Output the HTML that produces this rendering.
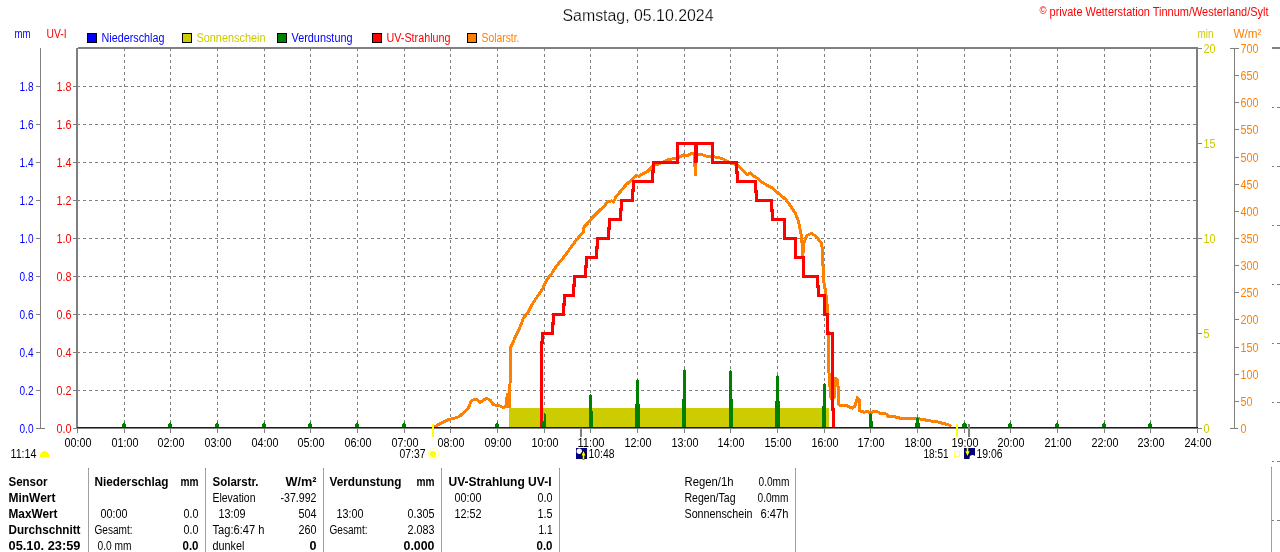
<!DOCTYPE html>
<html><head><meta charset="utf-8"><title>Wetterstation</title>
<style>
html,body{margin:0;padding:0;background:#fff;width:1280px;height:552px;overflow:hidden}
svg{display:block;will-change:transform}
text{font-family:"Liberation Sans",Arial,sans-serif}
</style></head><body>
<svg width="1280" height="552" viewBox="0 0 1280 552">
<rect x="0" y="0" width="1280" height="552" fill="#fff"/>
<path d="M124.5 48V427 M170.5 48V427 M217.5 48V427 M264.5 48V427 M310.5 48V427 M357.5 48V427 M404.5 48V427 M450.5 48V427 M497.5 48V427 M544.5 48V427 M590.5 48V427 M637.5 48V427 M684.5 48V427 M730.5 48V427 M777.5 48V427 M824.5 48V427 M870.5 48V427 M917.5 48V427 M964.5 48V427 M1010.5 48V427 M1057.5 48V427 M1104.5 48V427 M1150.5 48V427" stroke="#808080" stroke-width="1" stroke-dasharray="3 3" fill="none"/>
<path d="M77 390.5H1196 M77 352.5H1196 M77 314.5H1196 M77 276.5H1196 M77 238.5H1196 M77 200.5H1196 M77 162.5H1196 M77 124.5H1196 M77 86.5H1196" stroke="#808080" stroke-width="1" stroke-dasharray="3 3" fill="none"/>
<rect x="76" y="48" width="2" height="380" fill="#808080"/>
<rect x="78" y="47" width="1120" height="2" fill="#808080"/>
<rect x="1196" y="47" width="2" height="381" fill="#808080"/>
<rect x="76" y="427" width="1122" height="2" fill="#808080"/>
<rect x="77" y="428" width="1" height="5" fill="#808080"/>
<rect x="124" y="428" width="1" height="5" fill="#808080"/>
<rect x="170" y="428" width="1" height="5" fill="#808080"/>
<rect x="217" y="428" width="1" height="5" fill="#808080"/>
<rect x="264" y="428" width="1" height="5" fill="#808080"/>
<rect x="310" y="428" width="1" height="5" fill="#808080"/>
<rect x="357" y="428" width="1" height="5" fill="#808080"/>
<rect x="404" y="428" width="1" height="5" fill="#808080"/>
<rect x="450" y="428" width="1" height="5" fill="#808080"/>
<rect x="497" y="428" width="1" height="5" fill="#808080"/>
<rect x="544" y="428" width="1" height="5" fill="#808080"/>
<rect x="590" y="428" width="1" height="5" fill="#808080"/>
<rect x="637" y="428" width="1" height="5" fill="#808080"/>
<rect x="684" y="428" width="1" height="5" fill="#808080"/>
<rect x="730" y="428" width="1" height="5" fill="#808080"/>
<rect x="777" y="428" width="1" height="5" fill="#808080"/>
<rect x="824" y="428" width="1" height="5" fill="#808080"/>
<rect x="870" y="428" width="1" height="5" fill="#808080"/>
<rect x="917" y="428" width="1" height="5" fill="#808080"/>
<rect x="964" y="428" width="1" height="5" fill="#808080"/>
<rect x="1010" y="428" width="1" height="5" fill="#808080"/>
<rect x="1057" y="428" width="1" height="5" fill="#808080"/>
<rect x="1104" y="428" width="1" height="5" fill="#808080"/>
<rect x="1150" y="428" width="1" height="5" fill="#808080"/>
<rect x="1197" y="428" width="1" height="5" fill="#808080"/>
<rect x="40" y="48" width="1" height="381" fill="#808080"/>
<rect x="36" y="428" width="4" height="1" fill="#808080"/>
<rect x="73" y="428" width="3" height="1" fill="#808080"/>
<text x="19.5" y="433" fill="#0000ff" font-size="12" textLength="14.0" lengthAdjust="spacingAndGlyphs">0.0</text>
<text x="56.5" y="433" fill="#ff0000" font-size="12" textLength="15.0" lengthAdjust="spacingAndGlyphs">0.0</text>
<rect x="36" y="390" width="4" height="1" fill="#808080"/>
<rect x="73" y="390" width="3" height="1" fill="#808080"/>
<text x="19.5" y="395" fill="#0000ff" font-size="12" textLength="14.0" lengthAdjust="spacingAndGlyphs">0.2</text>
<text x="56.5" y="395" fill="#ff0000" font-size="12" textLength="15.0" lengthAdjust="spacingAndGlyphs">0.2</text>
<rect x="36" y="352" width="4" height="1" fill="#808080"/>
<rect x="73" y="352" width="3" height="1" fill="#808080"/>
<text x="19.5" y="357" fill="#0000ff" font-size="12" textLength="14.0" lengthAdjust="spacingAndGlyphs">0.4</text>
<text x="56.5" y="357" fill="#ff0000" font-size="12" textLength="15.0" lengthAdjust="spacingAndGlyphs">0.4</text>
<rect x="36" y="314" width="4" height="1" fill="#808080"/>
<rect x="73" y="314" width="3" height="1" fill="#808080"/>
<text x="19.5" y="319" fill="#0000ff" font-size="12" textLength="14.0" lengthAdjust="spacingAndGlyphs">0.6</text>
<text x="56.5" y="319" fill="#ff0000" font-size="12" textLength="15.0" lengthAdjust="spacingAndGlyphs">0.6</text>
<rect x="36" y="276" width="4" height="1" fill="#808080"/>
<rect x="73" y="276" width="3" height="1" fill="#808080"/>
<text x="19.5" y="281" fill="#0000ff" font-size="12" textLength="14.0" lengthAdjust="spacingAndGlyphs">0.8</text>
<text x="56.5" y="281" fill="#ff0000" font-size="12" textLength="15.0" lengthAdjust="spacingAndGlyphs">0.8</text>
<rect x="36" y="238" width="4" height="1" fill="#808080"/>
<rect x="73" y="238" width="3" height="1" fill="#808080"/>
<text x="19.5" y="243" fill="#0000ff" font-size="12" textLength="14.0" lengthAdjust="spacingAndGlyphs">1.0</text>
<text x="56.5" y="243" fill="#ff0000" font-size="12" textLength="15.0" lengthAdjust="spacingAndGlyphs">1.0</text>
<rect x="36" y="200" width="4" height="1" fill="#808080"/>
<rect x="73" y="200" width="3" height="1" fill="#808080"/>
<text x="19.5" y="205" fill="#0000ff" font-size="12" textLength="14.0" lengthAdjust="spacingAndGlyphs">1.2</text>
<text x="56.5" y="205" fill="#ff0000" font-size="12" textLength="15.0" lengthAdjust="spacingAndGlyphs">1.2</text>
<rect x="36" y="162" width="4" height="1" fill="#808080"/>
<rect x="73" y="162" width="3" height="1" fill="#808080"/>
<text x="19.5" y="167" fill="#0000ff" font-size="12" textLength="14.0" lengthAdjust="spacingAndGlyphs">1.4</text>
<text x="56.5" y="167" fill="#ff0000" font-size="12" textLength="15.0" lengthAdjust="spacingAndGlyphs">1.4</text>
<rect x="36" y="124" width="4" height="1" fill="#808080"/>
<rect x="73" y="124" width="3" height="1" fill="#808080"/>
<text x="19.5" y="129" fill="#0000ff" font-size="12" textLength="14.0" lengthAdjust="spacingAndGlyphs">1.6</text>
<text x="56.5" y="129" fill="#ff0000" font-size="12" textLength="15.0" lengthAdjust="spacingAndGlyphs">1.6</text>
<rect x="36" y="86" width="4" height="1" fill="#808080"/>
<rect x="73" y="86" width="3" height="1" fill="#808080"/>
<text x="19.5" y="91" fill="#0000ff" font-size="12" textLength="14.0" lengthAdjust="spacingAndGlyphs">1.8</text>
<text x="56.5" y="91" fill="#ff0000" font-size="12" textLength="15.0" lengthAdjust="spacingAndGlyphs">1.8</text>
<rect x="36" y="428" width="9" height="1" fill="#808080"/>
<text x="14.5" y="38" fill="#0000ff" font-size="12" textLength="16.0" lengthAdjust="spacingAndGlyphs">mm</text>
<text x="46.5" y="38" fill="#ff0000" font-size="12" textLength="20.0" lengthAdjust="spacingAndGlyphs">UV-I</text>
<rect x="1198" y="428" width="4" height="1" fill="#808080"/>
<text x="1203.5" y="433" fill="#cccc00" font-size="12" textLength="6.0" lengthAdjust="spacingAndGlyphs">0</text>
<rect x="1198" y="333" width="4" height="1" fill="#808080"/>
<text x="1203.5" y="338" fill="#cccc00" font-size="12" textLength="6.0" lengthAdjust="spacingAndGlyphs">5</text>
<rect x="1198" y="238" width="4" height="1" fill="#808080"/>
<text x="1203.5" y="243" fill="#cccc00" font-size="12" textLength="12.0" lengthAdjust="spacingAndGlyphs">10</text>
<rect x="1198" y="143" width="4" height="1" fill="#808080"/>
<text x="1203.5" y="148" fill="#cccc00" font-size="12" textLength="12.0" lengthAdjust="spacingAndGlyphs">15</text>
<rect x="1198" y="48" width="4" height="1" fill="#808080"/>
<text x="1203.5" y="53" fill="#cccc00" font-size="12" textLength="12.0" lengthAdjust="spacingAndGlyphs">20</text>
<rect x="1234" y="48" width="1" height="381" fill="#808080"/>
<rect x="1230" y="48" width="9" height="1" fill="#808080"/>
<rect x="1230" y="428" width="8" height="1" fill="#808080"/>
<text x="1240.5" y="433" fill="#ff8000" font-size="12" textLength="6.0" lengthAdjust="spacingAndGlyphs">0</text>
<rect x="1235" y="401" width="4" height="1" fill="#808080"/>
<text x="1240.5" y="406" fill="#ff8000" font-size="12" textLength="12.0" lengthAdjust="spacingAndGlyphs">50</text>
<rect x="1235" y="374" width="4" height="1" fill="#808080"/>
<text x="1240.5" y="379" fill="#ff8000" font-size="12" textLength="18.0" lengthAdjust="spacingAndGlyphs">100</text>
<rect x="1235" y="347" width="4" height="1" fill="#808080"/>
<text x="1240.5" y="352" fill="#ff8000" font-size="12" textLength="18.0" lengthAdjust="spacingAndGlyphs">150</text>
<rect x="1235" y="319" width="4" height="1" fill="#808080"/>
<text x="1240.5" y="324" fill="#ff8000" font-size="12" textLength="18.0" lengthAdjust="spacingAndGlyphs">200</text>
<rect x="1235" y="292" width="4" height="1" fill="#808080"/>
<text x="1240.5" y="297" fill="#ff8000" font-size="12" textLength="18.0" lengthAdjust="spacingAndGlyphs">250</text>
<rect x="1235" y="265" width="4" height="1" fill="#808080"/>
<text x="1240.5" y="270" fill="#ff8000" font-size="12" textLength="18.0" lengthAdjust="spacingAndGlyphs">300</text>
<rect x="1235" y="238" width="4" height="1" fill="#808080"/>
<text x="1240.5" y="243" fill="#ff8000" font-size="12" textLength="18.0" lengthAdjust="spacingAndGlyphs">350</text>
<rect x="1235" y="211" width="4" height="1" fill="#808080"/>
<text x="1240.5" y="216" fill="#ff8000" font-size="12" textLength="18.0" lengthAdjust="spacingAndGlyphs">400</text>
<rect x="1235" y="184" width="4" height="1" fill="#808080"/>
<text x="1240.5" y="189" fill="#ff8000" font-size="12" textLength="18.0" lengthAdjust="spacingAndGlyphs">450</text>
<rect x="1235" y="157" width="4" height="1" fill="#808080"/>
<text x="1240.5" y="162" fill="#ff8000" font-size="12" textLength="18.0" lengthAdjust="spacingAndGlyphs">500</text>
<rect x="1235" y="129" width="4" height="1" fill="#808080"/>
<text x="1240.5" y="134" fill="#ff8000" font-size="12" textLength="18.0" lengthAdjust="spacingAndGlyphs">550</text>
<rect x="1235" y="102" width="4" height="1" fill="#808080"/>
<text x="1240.5" y="107" fill="#ff8000" font-size="12" textLength="18.0" lengthAdjust="spacingAndGlyphs">600</text>
<rect x="1235" y="75" width="4" height="1" fill="#808080"/>
<text x="1240.5" y="80" fill="#ff8000" font-size="12" textLength="18.0" lengthAdjust="spacingAndGlyphs">650</text>
<text x="1240.5" y="53" fill="#ff8000" font-size="12" textLength="18.0" lengthAdjust="spacingAndGlyphs">700</text>
<text x="1197.5" y="38" fill="#cccc00" font-size="12" textLength="16.0" lengthAdjust="spacingAndGlyphs">min</text>
<text x="1233.5" y="38" fill="#ff8000" font-size="12" textLength="28.0" lengthAdjust="spacingAndGlyphs">W/m²</text>
<rect x="1272" y="47" width="8" height="2" fill="#808080"/>
<rect x="1272" y="107" width="2" height="1" fill="#808080"/>
<rect x="1277" y="107" width="3" height="1" fill="#808080"/>
<rect x="1272" y="166" width="2" height="1" fill="#808080"/>
<rect x="1277" y="166" width="3" height="1" fill="#808080"/>
<rect x="1272" y="225" width="2" height="1" fill="#808080"/>
<rect x="1277" y="225" width="3" height="1" fill="#808080"/>
<rect x="1272" y="284" width="2" height="1" fill="#808080"/>
<rect x="1277" y="284" width="3" height="1" fill="#808080"/>
<rect x="1272" y="343" width="2" height="1" fill="#808080"/>
<rect x="1277" y="343" width="3" height="1" fill="#808080"/>
<rect x="1272" y="402" width="2" height="1" fill="#808080"/>
<rect x="1277" y="402" width="3" height="1" fill="#808080"/>
<rect x="1271" y="467" width="1" height="85" fill="#a0a0a0"/>
<rect x="1271" y="467" width="1" height="1" fill="#808080"/>
<rect x="1272" y="461" width="2" height="1" fill="#808080"/>
<rect x="1277" y="461" width="3" height="1" fill="#808080"/>
<rect x="1272" y="520" width="2" height="1" fill="#808080"/>
<rect x="1277" y="520" width="3" height="1" fill="#808080"/>
<text x="562.5" y="21" fill="#000" font-size="16" textLength="151" lengthAdjust="spacingAndGlyphs" stroke="#fff" stroke-width="0.25">Samstag, 05.10.2024</text>
<text x="1039.5" y="16" fill="#ff0000" font-size="12" textLength="229" lengthAdjust="spacingAndGlyphs"><tspan font-size="10.5" dy="-2">©</tspan><tspan dy="2">  private Wetterstation Tinnum/Westerland/Sylt</tspan></text>
<rect x="87" y="33" width="10" height="10" fill="#000"/>
<rect x="88" y="34" width="8" height="8" fill="#0000ff"/>
<text x="101.5" y="42" fill="#0000ff" font-size="12" textLength="63.0" lengthAdjust="spacingAndGlyphs">Niederschlag</text>
<rect x="182" y="33" width="10" height="10" fill="#000"/>
<rect x="183" y="34" width="8" height="8" fill="#cccc00"/>
<text x="196.5" y="42" fill="#cccc00" font-size="12" textLength="69.0" lengthAdjust="spacingAndGlyphs">Sonnenschein</text>
<rect x="277" y="33" width="10" height="10" fill="#000"/>
<rect x="278" y="34" width="8" height="8" fill="#008000"/>
<text x="291.5" y="42" fill="#0000ff" font-size="12" textLength="61.0" lengthAdjust="spacingAndGlyphs">Verdunstung</text>
<rect x="372" y="33" width="10" height="10" fill="#000"/>
<rect x="373" y="34" width="8" height="8" fill="#ff0000"/>
<text x="386.5" y="42" fill="#ff0000" font-size="12" textLength="64.0" lengthAdjust="spacingAndGlyphs">UV-Strahlung</text>
<rect x="467" y="33" width="10" height="10" fill="#000"/>
<rect x="468" y="34" width="8" height="8" fill="#ff8000"/>
<text x="481.5" y="42" fill="#ff8000" font-size="12" textLength="38.0" lengthAdjust="spacingAndGlyphs">Solarstr.</text>
<rect x="509" y="408" width="320" height="19" fill="#cccc00"/>
<clipPath id="pc"><rect x="78" y="49" width="1118" height="378"/></clipPath>
<path shape-rendering="crispEdges" fill="#ff8000" d="M505 407V397H506V393H508V391.5H509V380H511V408H509Z"/>
<polyline clip-path="url(#pc)" shape-rendering="crispEdges" fill="none" stroke="#ff8000" stroke-width="3" stroke-linejoin="round" points="434.5,427 435.8,426.2 439.4,424.1 443.8,421.9 448.1,419.7 451.7,418.8 456.1,417.7 459,416.6 461.9,414.3 465.5,411 468.4,407.8 470.2,403.4 471.7,400.5 474.9,399.1 477.1,399.4 480.3,402.3 486.5,398.1 490.3,400.4 493.5,404.9 498,405.2 503,407.4 506,406.5 509.5,407 510,384 510.3,370 510.6,360 510.9,346.7 513,342.4 516.3,334.8 519.6,328.3 521.7,322.8 523.4,317.9 527.7,313 531.4,305.4 537.2,296.7 542.3,289.4 546.7,280 551.7,273.5 556.8,265.5 561.2,260.4 566.2,253.9 572,245.9 576.4,240.1 581.4,234.3 583.2,231.9 583.8,227.4 590.2,220.5 592.7,217.3 599,210.9 604.1,206.5 607.3,202.1 611.7,200.8 613.6,202.1 616.2,196.3 620.6,191.3 626.3,184.5 632.7,178.8 636.5,175.6 639,176.2 642.8,173.7 647.3,171.8 651.1,168 653.6,164.8 658,164.2 663.1,162.3 669,159.4 673,158.9 677,157.9 680,156.9 684,154.9 687,155.9 690.9,153.9 694.4,153.9 695.4,174.9 696.4,154.2 697.9,154.4 702.9,154.9 706.9,156.4 711.9,156.4 716.8,157.4 721.8,158.4 728.2,161.8 733,163.5 737.7,165.3 742.4,170 747.1,174.7 750.6,173 753,175.9 757.7,178.3 762.4,182.4 767.1,185.3 771.8,187.7 776.5,191.8 780.5,195 786.2,199.9 790.3,205.6 795.2,212.9 798.4,221.1 800.1,229.2 801.7,237.4 802.8,255.3 804.1,242.3 806.6,235.8 811.5,233.3 816.4,236.6 821.3,243.1 822.4,248.8 822.9,263.5 823.7,281.4 825.6,291.7 827,303.9 827.6,312.1 827.6,324.3 828.3,335.1 828.8,350 828.7,370 829.6,379 830.5,396.3 832,400 834.6,397.2 835.1,378.2 837.3,380 838.2,388.1 838.7,404.5 840.5,405.4 846,405.4 849.6,407.2 852.3,408.1 855,406.3 857.3,397.7 859.1,399.9 859.7,410.8 864.1,412.2 866.8,411.5 870.4,412.6 876.3,411 880.4,413.5 886.3,414 888.2,416.3 894.5,416.7 900.8,418.4 916.2,418.4 922.6,419.5 929.8,420.8 938.9,422.2 943.4,423.5 948.8,424.9 951.5,426.5"/>
<polyline clip-path="url(#pc)" shape-rendering="crispEdges" fill="none" stroke="#ff0000" stroke-width="3" stroke-linejoin="miter" points="541.5,428.5 541.5,342.5 542.5,342.5 542.5,333.5 552.5,333.5 552.5,323.5 553.5,323.5 553.5,314.5 563.5,314.5 563.5,304.5 564.5,304.5 564.5,295.5 573.5,295.5 573.5,285.5 574.5,285.5 574.5,276.5 585.5,276.5 585.5,266.5 586.5,266.5 586.5,257.5 596.5,257.5 596.5,247.5 597.5,247.5 597.5,238.5 608.0,238.5 608.0,228.5 609.0,228.5 609.0,219.5 620.5,219.5 620.5,209.5 621.5,209.5 621.5,200.5 632.5,200.5 632.5,190.5 633.5,190.5 633.5,181.5 652.5,181.5 652.5,171.5 653.5,171.5 653.5,162.5 677.5,162.5 677.5,143.5 695.5,143.5 696.0,162.5 696.0,162.5 696.5,143.5 712.5,143.5 712.5,162.5 736.5,162.5 736.5,172.5 737.5,172.5 737.5,181.5 755.5,181.5 755.5,191.5 756.5,191.5 756.5,200.5 771.5,200.5 771.5,210.5 772.5,210.5 772.5,219.5 784.5,219.5 784.5,238.5 795.0,238.5 795.0,257.5 803.5,257.5 803.5,276.5 817.5,276.5 817.5,286.5 818.5,286.5 818.5,295.5 824.5,295.5 824.5,314.5 827.5,314.5 827.5,333.5 832.0,333.5 832.0,409.5 833.0,409.5 833.0,428.5"/>
<rect x="544" y="413" width="1" height="14" fill="#008000"/>
<rect x="544" y="414" width="2" height="13" fill="#008000"/>
<rect x="542" y="421" width="4" height="6" fill="#008000"/>
<rect x="590" y="394" width="1" height="33" fill="#008000"/>
<rect x="589" y="395" width="3" height="32" fill="#008000"/>
<rect x="589" y="411" width="4" height="16" fill="#008000"/>
<rect x="637" y="379" width="1" height="48" fill="#008000"/>
<rect x="636" y="380" width="3" height="47" fill="#008000"/>
<rect x="635" y="404" width="5" height="23" fill="#008000"/>
<rect x="684" y="369" width="1" height="58" fill="#008000"/>
<rect x="683" y="370" width="3" height="57" fill="#008000"/>
<rect x="682" y="399" width="4" height="28" fill="#008000"/>
<rect x="730" y="370" width="1" height="57" fill="#008000"/>
<rect x="729" y="371" width="3" height="56" fill="#008000"/>
<rect x="729" y="399" width="4" height="28" fill="#008000"/>
<rect x="777" y="375" width="1" height="52" fill="#008000"/>
<rect x="776" y="376" width="3" height="51" fill="#008000"/>
<rect x="775" y="401" width="5" height="26" fill="#008000"/>
<rect x="824" y="383" width="1" height="44" fill="#008000"/>
<rect x="823" y="384" width="3" height="43" fill="#008000"/>
<rect x="822" y="406" width="4" height="21" fill="#008000"/>
<rect x="870" y="413" width="1" height="14" fill="#008000"/>
<rect x="869" y="414" width="3" height="13" fill="#008000"/>
<rect x="869" y="421" width="4" height="6" fill="#008000"/>
<rect x="917" y="417" width="1" height="10" fill="#008000"/>
<rect x="916" y="418" width="3" height="9" fill="#008000"/>
<rect x="915" y="423" width="5" height="4" fill="#008000"/>
<rect x="124" y="422" width="1" height="5" fill="#008000"/>
<rect x="123" y="423" width="2" height="4" fill="#008000"/>
<rect x="122" y="424" width="4" height="3" fill="#008000"/>
<rect x="170" y="422" width="1" height="5" fill="#008000"/>
<rect x="169" y="423" width="2" height="4" fill="#008000"/>
<rect x="168" y="424" width="4" height="3" fill="#008000"/>
<rect x="217" y="422" width="1" height="5" fill="#008000"/>
<rect x="216" y="423" width="2" height="4" fill="#008000"/>
<rect x="215" y="424" width="4" height="3" fill="#008000"/>
<rect x="264" y="422" width="1" height="5" fill="#008000"/>
<rect x="263" y="423" width="2" height="4" fill="#008000"/>
<rect x="262" y="424" width="4" height="3" fill="#008000"/>
<rect x="310" y="422" width="1" height="5" fill="#008000"/>
<rect x="309" y="423" width="2" height="4" fill="#008000"/>
<rect x="308" y="424" width="4" height="3" fill="#008000"/>
<rect x="357" y="422" width="1" height="5" fill="#008000"/>
<rect x="356" y="423" width="2" height="4" fill="#008000"/>
<rect x="355" y="424" width="4" height="3" fill="#008000"/>
<rect x="404" y="422" width="1" height="5" fill="#008000"/>
<rect x="403" y="423" width="2" height="4" fill="#008000"/>
<rect x="402" y="424" width="4" height="3" fill="#008000"/>
<rect x="497" y="422" width="1" height="5" fill="#008000"/>
<rect x="496" y="423" width="2" height="4" fill="#008000"/>
<rect x="495" y="424" width="4" height="3" fill="#008000"/>
<rect x="964" y="422" width="1" height="5" fill="#008000"/>
<rect x="963" y="423" width="3" height="4" fill="#008000"/>
<rect x="962" y="424" width="5" height="3" fill="#008000"/>
<rect x="1010" y="422" width="1" height="5" fill="#008000"/>
<rect x="1009" y="423" width="2" height="4" fill="#008000"/>
<rect x="1008" y="424" width="4" height="3" fill="#008000"/>
<rect x="1057" y="422" width="1" height="5" fill="#008000"/>
<rect x="1056" y="423" width="2" height="4" fill="#008000"/>
<rect x="1055" y="424" width="4" height="3" fill="#008000"/>
<rect x="1104" y="422" width="1" height="5" fill="#008000"/>
<rect x="1103" y="423" width="2" height="4" fill="#008000"/>
<rect x="1102" y="424" width="4" height="3" fill="#008000"/>
<rect x="1150" y="422" width="1" height="5" fill="#008000"/>
<rect x="1149" y="423" width="2" height="4" fill="#008000"/>
<rect x="1148" y="424" width="4" height="3" fill="#008000"/>
<rect x="77" y="427" width="1121" height="1" fill="#0000ff"/>
<text x="64.5" y="447" fill="#000" font-size="12" textLength="27.0" lengthAdjust="spacingAndGlyphs">00:00</text>
<text x="111.5" y="447" fill="#000" font-size="12" textLength="27.0" lengthAdjust="spacingAndGlyphs">01:00</text>
<text x="157.5" y="447" fill="#000" font-size="12" textLength="27.0" lengthAdjust="spacingAndGlyphs">02:00</text>
<text x="204.5" y="447" fill="#000" font-size="12" textLength="27.0" lengthAdjust="spacingAndGlyphs">03:00</text>
<text x="251.5" y="447" fill="#000" font-size="12" textLength="27.0" lengthAdjust="spacingAndGlyphs">04:00</text>
<text x="297.5" y="447" fill="#000" font-size="12" textLength="27.0" lengthAdjust="spacingAndGlyphs">05:00</text>
<text x="344.5" y="447" fill="#000" font-size="12" textLength="27.0" lengthAdjust="spacingAndGlyphs">06:00</text>
<text x="391.5" y="447" fill="#000" font-size="12" textLength="27.0" lengthAdjust="spacingAndGlyphs">07:00</text>
<text x="437.5" y="447" fill="#000" font-size="12" textLength="27.0" lengthAdjust="spacingAndGlyphs">08:00</text>
<text x="484.5" y="447" fill="#000" font-size="12" textLength="27.0" lengthAdjust="spacingAndGlyphs">09:00</text>
<text x="531.5" y="447" fill="#000" font-size="12" textLength="27.0" lengthAdjust="spacingAndGlyphs">10:00</text>
<text x="577.5" y="447" fill="#000" font-size="12" textLength="27.0" lengthAdjust="spacingAndGlyphs">11:00</text>
<text x="624.5" y="447" fill="#000" font-size="12" textLength="27.0" lengthAdjust="spacingAndGlyphs">12:00</text>
<text x="671.5" y="447" fill="#000" font-size="12" textLength="27.0" lengthAdjust="spacingAndGlyphs">13:00</text>
<text x="717.5" y="447" fill="#000" font-size="12" textLength="27.0" lengthAdjust="spacingAndGlyphs">14:00</text>
<text x="764.5" y="447" fill="#000" font-size="12" textLength="27.0" lengthAdjust="spacingAndGlyphs">15:00</text>
<text x="811.5" y="447" fill="#000" font-size="12" textLength="27.0" lengthAdjust="spacingAndGlyphs">16:00</text>
<text x="857.5" y="447" fill="#000" font-size="12" textLength="27.0" lengthAdjust="spacingAndGlyphs">17:00</text>
<text x="904.5" y="447" fill="#000" font-size="12" textLength="27.0" lengthAdjust="spacingAndGlyphs">18:00</text>
<text x="951.5" y="447" fill="#000" font-size="12" textLength="27.0" lengthAdjust="spacingAndGlyphs">19:00</text>
<text x="997.5" y="447" fill="#000" font-size="12" textLength="27.0" lengthAdjust="spacingAndGlyphs">20:00</text>
<text x="1044.5" y="447" fill="#000" font-size="12" textLength="27.0" lengthAdjust="spacingAndGlyphs">21:00</text>
<text x="1091.5" y="447" fill="#000" font-size="12" textLength="27.0" lengthAdjust="spacingAndGlyphs">22:00</text>
<text x="1137.5" y="447" fill="#000" font-size="12" textLength="27.0" lengthAdjust="spacingAndGlyphs">23:00</text>
<text x="1184.5" y="447" fill="#000" font-size="12" textLength="27.0" lengthAdjust="spacingAndGlyphs">24:00</text>
<rect x="432" y="424" width="2" height="13" fill="#ffff00"/>
<rect x="956" y="424" width="2" height="13" fill="#ffff00"/>
<rect x="580" y="428" width="2" height="9" fill="#808080"/>
<rect x="968" y="424" width="2" height="13" fill="#808080"/>
<text x="10.5" y="458" fill="#000" font-size="12" textLength="26.0" lengthAdjust="spacingAndGlyphs">11:14</text>
<rect x="43" y="451" width="3" height="1" fill="#ffff00"/>
<rect x="41" y="452" width="7" height="2" fill="#ffff00"/>
<rect x="40" y="454" width="9" height="3" fill="#ffff00"/>
<text x="399.5" y="458" fill="#000" font-size="12" textLength="26.0" lengthAdjust="spacingAndGlyphs">07:37</text>
<circle cx="433.5" cy="454" r="5.3" fill="none" stroke="#ffffb0" stroke-width="1.2"/>
<circle cx="433" cy="454" r="3.1" fill="#ffff00"/>
<rect x="576" y="448" width="11" height="11" fill="#000080"/>
<circle cx="579.3" cy="451.3" r="2.7" fill="#ffffff"/>
<path d="M583.5 450L580.5 455.5H582.5V459H584.5V455.5H586.5Z" fill="#000" stroke="#000" stroke-width="1"/>
<path d="M583.5 451L581.5 455.5H582.7V459H584.3V455.5H585.5Z" fill="#ffff00"/>
<text x="588.5" y="458" fill="#000" font-size="12" textLength="26.0" lengthAdjust="spacingAndGlyphs">10:48</text>
<text x="923.5" y="458" fill="#000" font-size="12" textLength="25.0" lengthAdjust="spacingAndGlyphs">18:51</text>
<rect x="954.5" y="451.5" width="5" height="5" fill="none" stroke="#ffff66" stroke-width="1"/>
<rect x="964" y="448" width="11" height="11" fill="#000080"/>
<path d="M967.5 457L964.5 451.5H966.5V448H968.5V451.5H970.5Z" fill="#000"/>
<path d="M967.5 456L965.3 451.3H966.7V448H968.3V451.3H969.7Z" fill="#ffff00"/>
<circle cx="972.5" cy="458" r="3" fill="#ffffff"/>
<rect x="964" y="459" width="11" height="2" fill="#ffffff"/>
<text x="976.5" y="458" fill="#000" font-size="12" textLength="26.0" lengthAdjust="spacingAndGlyphs">19:06</text>
<rect x="88" y="468" width="1" height="84" fill="#a0a0a0"/>
<rect x="88" y="468" width="1" height="1" fill="#808080"/>
<rect x="205" y="468" width="1" height="84" fill="#a0a0a0"/>
<rect x="205" y="468" width="1" height="1" fill="#808080"/>
<rect x="323" y="468" width="1" height="84" fill="#a0a0a0"/>
<rect x="323" y="468" width="1" height="1" fill="#808080"/>
<rect x="441" y="468" width="1" height="84" fill="#a0a0a0"/>
<rect x="441" y="468" width="1" height="1" fill="#808080"/>
<rect x="559" y="468" width="1" height="84" fill="#a0a0a0"/>
<rect x="559" y="468" width="1" height="1" fill="#808080"/>
<rect x="795" y="468" width="1" height="84" fill="#a0a0a0"/>
<rect x="795" y="468" width="1" height="1" fill="#808080"/>
<text x="8.5" y="486" fill="#000" font-size="12" font-weight="bold" textLength="39.0" lengthAdjust="spacingAndGlyphs">Sensor</text>
<text x="8.5" y="502" fill="#000" font-size="12" font-weight="bold" textLength="47.0" lengthAdjust="spacingAndGlyphs">MinWert</text>
<text x="8.5" y="518" fill="#000" font-size="12" font-weight="bold" textLength="49.0" lengthAdjust="spacingAndGlyphs">MaxWert</text>
<text x="8.5" y="534" fill="#000" font-size="12" font-weight="bold" textLength="72.0" lengthAdjust="spacingAndGlyphs">Durchschnitt</text>
<text x="8.5" y="550" fill="#000" font-size="12" font-weight="bold" textLength="72.0" lengthAdjust="spacingAndGlyphs">05.10. 23:59</text>
<text x="94.5" y="486" fill="#000" font-size="12" font-weight="bold" textLength="74.0" lengthAdjust="spacingAndGlyphs">Niederschlag</text>
<text x="198.5" y="486" fill="#000" font-size="12" text-anchor="end" font-weight="bold" textLength="18.0" lengthAdjust="spacingAndGlyphs">mm</text>
<text x="100.5" y="518" fill="#000" font-size="12" textLength="27.0" lengthAdjust="spacingAndGlyphs">00:00</text>
<text x="198.5" y="518" fill="#000" font-size="12" text-anchor="end" textLength="15.0" lengthAdjust="spacingAndGlyphs">0.0</text>
<text x="94.5" y="534" fill="#000" font-size="12" textLength="38.0" lengthAdjust="spacingAndGlyphs">Gesamt:</text>
<text x="198.5" y="534" fill="#000" font-size="12" text-anchor="end" textLength="15.0" lengthAdjust="spacingAndGlyphs">0.0</text>
<text x="97.5" y="550" fill="#000" font-size="12" textLength="34.0" lengthAdjust="spacingAndGlyphs">0.0 mm</text>
<text x="198.5" y="550" fill="#000" font-size="12" text-anchor="end" font-weight="bold" textLength="16.0" lengthAdjust="spacingAndGlyphs">0.0</text>
<text x="212.5" y="486" fill="#000" font-size="12" font-weight="bold" textLength="46.0" lengthAdjust="spacingAndGlyphs">Solarstr.</text>
<text x="316.5" y="486" fill="#000" font-size="12" text-anchor="end" font-weight="bold" textLength="31.0" lengthAdjust="spacingAndGlyphs">W/m²</text>
<text x="212.5" y="502" fill="#000" font-size="12" textLength="43.0" lengthAdjust="spacingAndGlyphs">Elevation</text>
<text x="316.5" y="502" fill="#000" font-size="12" text-anchor="end" textLength="36.0" lengthAdjust="spacingAndGlyphs">-37.992</text>
<text x="218.5" y="518" fill="#000" font-size="12" textLength="27.0" lengthAdjust="spacingAndGlyphs">13:09</text>
<text x="316.5" y="518" fill="#000" font-size="12" text-anchor="end" textLength="18.0" lengthAdjust="spacingAndGlyphs">504</text>
<text x="212.5" y="534" fill="#000" font-size="12" textLength="52.0" lengthAdjust="spacingAndGlyphs">Tag:6:47 h</text>
<text x="316.5" y="534" fill="#000" font-size="12" text-anchor="end" textLength="18.0" lengthAdjust="spacingAndGlyphs">260</text>
<text x="212.5" y="550" fill="#000" font-size="12" textLength="32.0" lengthAdjust="spacingAndGlyphs">dunkel</text>
<text x="316.5" y="550" fill="#000" font-size="12" text-anchor="end" font-weight="bold" textLength="7.0" lengthAdjust="spacingAndGlyphs">0</text>
<text x="329.5" y="486" fill="#000" font-size="12" font-weight="bold" textLength="72.0" lengthAdjust="spacingAndGlyphs">Verdunstung</text>
<text x="434.5" y="486" fill="#000" font-size="12" text-anchor="end" font-weight="bold" textLength="18.0" lengthAdjust="spacingAndGlyphs">mm</text>
<text x="336.5" y="518" fill="#000" font-size="12" textLength="27.0" lengthAdjust="spacingAndGlyphs">13:00</text>
<text x="434.5" y="518" fill="#000" font-size="12" text-anchor="end" textLength="27.0" lengthAdjust="spacingAndGlyphs">0.305</text>
<text x="329.5" y="534" fill="#000" font-size="12" textLength="38.0" lengthAdjust="spacingAndGlyphs">Gesamt:</text>
<text x="434.5" y="534" fill="#000" font-size="12" text-anchor="end" textLength="27.0" lengthAdjust="spacingAndGlyphs">2.083</text>
<text x="434.5" y="550" fill="#000" font-size="12" text-anchor="end" font-weight="bold" textLength="31.0" lengthAdjust="spacingAndGlyphs">0.000</text>
<text x="448.5" y="486" fill="#000" font-size="12" font-weight="bold" textLength="103.0" lengthAdjust="spacingAndGlyphs">UV-Strahlung UV-I</text>
<text x="454.5" y="502" fill="#000" font-size="12" textLength="27.0" lengthAdjust="spacingAndGlyphs">00:00</text>
<text x="552.5" y="502" fill="#000" font-size="12" text-anchor="end" textLength="15.0" lengthAdjust="spacingAndGlyphs">0.0</text>
<text x="454.5" y="518" fill="#000" font-size="12" textLength="27.0" lengthAdjust="spacingAndGlyphs">12:52</text>
<text x="552.5" y="518" fill="#000" font-size="12" text-anchor="end" textLength="15.0" lengthAdjust="spacingAndGlyphs">1.5</text>
<text x="552.5" y="534" fill="#000" font-size="12" text-anchor="end" textLength="14.0" lengthAdjust="spacingAndGlyphs">1.1</text>
<text x="552.5" y="550" fill="#000" font-size="12" text-anchor="end" font-weight="bold" textLength="16.0" lengthAdjust="spacingAndGlyphs">0.0</text>
<text x="684.5" y="486" fill="#000" font-size="12" textLength="49.0" lengthAdjust="spacingAndGlyphs">Regen/1h</text>
<text x="789.5" y="486" fill="#000" font-size="12" text-anchor="end" textLength="31.0" lengthAdjust="spacingAndGlyphs">0.0mm</text>
<text x="684.5" y="502" fill="#000" font-size="12" textLength="51.0" lengthAdjust="spacingAndGlyphs">Regen/Tag</text>
<text x="788.5" y="502" fill="#000" font-size="12" text-anchor="end" textLength="31.0" lengthAdjust="spacingAndGlyphs">0.0mm</text>
<text x="684.5" y="518" fill="#000" font-size="12" textLength="68.0" lengthAdjust="spacingAndGlyphs">Sonnenschein</text>
<text x="788.5" y="518" fill="#000" font-size="12" text-anchor="end" textLength="28.0" lengthAdjust="spacingAndGlyphs">6:47h</text>
</svg>
</body></html>
